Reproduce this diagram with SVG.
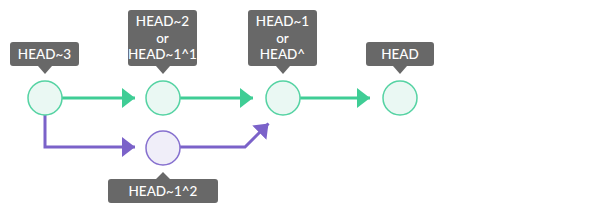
<svg xmlns="http://www.w3.org/2000/svg" width="600" height="214" viewBox="0 0 600 214">
<style>
.lbl{fill:#686868}
.t{fill:#ffffff;font-family:Lato,"Open Sans",sans-serif;font-size:13.5px;font-weight:500;text-anchor:middle}
.g{fill:#eaf8f3;stroke:#55d3a3;stroke-width:1.5}
.p{fill:#f0eef9;stroke:#8670cf;stroke-width:1.5}
.gl{fill:none;stroke:#3fcd95;stroke-width:3}
.pl{fill:none;stroke:#7b62c9;stroke-width:3}
</style>
<defs>
<marker id="ag" markerUnits="userSpaceOnUse" markerWidth="14" markerHeight="21" refX="13" refY="10" orient="auto">
<path d="M0,0 L13,10 L0,20 z" fill="#3fcd95"/>
</marker>
<marker id="ap" markerUnits="userSpaceOnUse" markerWidth="14" markerHeight="21" refX="13" refY="10" orient="auto">
<path d="M0,0 L13,10 L0,20 z" fill="#7b62c9"/>
</marker>
</defs>
<g id="connectors">
<path class="gl" d="M62,98 H135" marker-end="url(#ag)"/>
<path class="gl" d="M180,98 H253" marker-end="url(#ag)"/>
<path class="gl" d="M300,98 H370" marker-end="url(#ag)"/>
<path class="pl" d="M45,115 V147 H135" marker-end="url(#ap)"/>
<path class="pl" d="M180,147 H245 L268.5,123.5" marker-end="url(#ap)"/>
</g>
<g id="n1">
<circle class="g" cx="45" cy="98" r="17"/>
<path class="lbl" d="M13,42 H76 Q79,42 79,45 V63 Q79,66 76,66 H52 L45,74 L38,66 H13 Q10,66 10,63 V45 Q10,42 13,42 Z"/>
<text class="t" x="44.5" y="59">HEAD~3</text>
</g>
<g id="n2">
<circle class="g" cx="163" cy="98" r="17"/>
<path class="lbl" d="M131,10 H194 Q197,10 197,13 V63 Q197,66 194,66 H170 L163,74 L156,66 H131 Q128,66 128,63 V13 Q128,10 131,10 Z"/>
<text class="t" x="162.5" y="26">HEAD~2</text>
<text class="t" x="162.5" y="42.5">or</text>
<text class="t" x="162.5" y="59">HEAD~1^1</text>
</g>
<g id="n3">
<circle class="g" cx="283" cy="98" r="17"/>
<path class="lbl" d="M251,10 H314 Q317,10 317,13 V63 Q317,66 314,66 H290 L283,74 L276,66 H251 Q248,66 248,63 V13 Q248,10 251,10 Z"/>
<text class="t" x="282.5" y="26">HEAD~1</text>
<text class="t" x="282.5" y="42.5">or</text>
<text class="t" x="282.5" y="59">HEAD^</text>
</g>
<g id="n4">
<circle class="g" cx="400" cy="98" r="17"/>
<path class="lbl" d="M369,42 H431 Q434,42 434,45 V63 Q434,66 431,66 H407 L400,74 L393,66 H369 Q366,66 366,63 V45 Q366,42 369,42 Z"/>
<text class="t" x="400" y="59">HEAD</text>
</g>
<g id="n5">
<circle class="p" cx="163" cy="148" r="17"/>
<path class="lbl" d="M111,179 H156 L163,172 L170,179 H215 Q218,179 218,182 V200 Q218,203 215,203 H111 Q108,203 108,200 V182 Q108,179 111,179 Z"/>
<text class="t" x="163" y="196">HEAD~1^2</text>
</g>
</svg>
